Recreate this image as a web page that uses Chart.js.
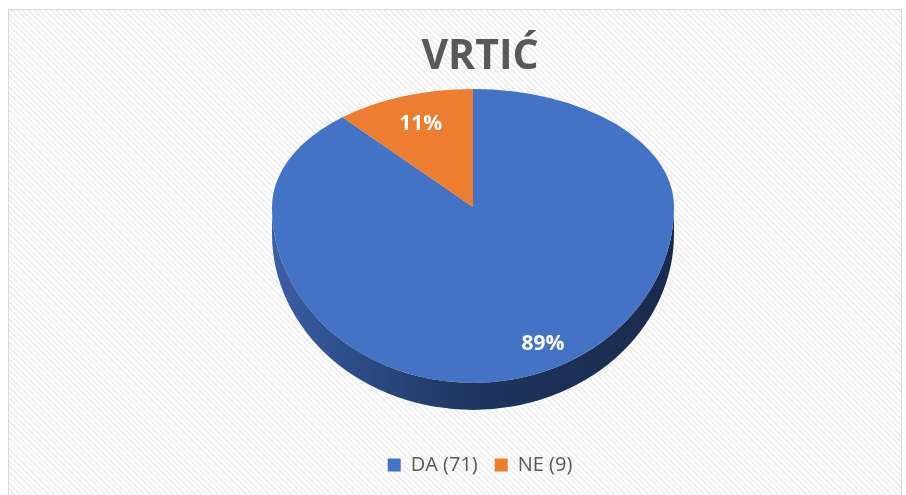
<!DOCTYPE html>
<html>
<head>
<meta charset="utf-8">
<script src="https://cdn.jsdelivr.net/npm/chart.js@4.4.0/dist/chart.umd.min.js"></script>
<style>
    html, body { margin: 0; padding: 0; background: #fff; }
    body { width: 906px; height: 495px; overflow: hidden; position: relative; }
    .frame {
        position: absolute; left: 8px; top: 9px; width: 892px; height: 500px;
        border: 1.5px solid #d9d9d9;
        background: repeating-linear-gradient(45deg, #ffffff 0 2px, #f0f0f0 2px 4px);
    }
    .chart-container { position: absolute; left: 0; top: 0; width: 906px; height: 495px; }
</style>
</head>
<body>
<div class="frame"></div>
<div class="chart-container"><canvas id="vrticChart"></canvas></div>
<script>
const chartTitle = 'VRTIĆ';
const categories = ['DA', 'NE'];
const counts = [71, 9];
const sliceColors = ['#4472c4', '#ed7d31'];
const sideColors = [
    ['#3a5fa3', '#2d4d88', '#1f355f', '#1a2a4b'],
    ['#b5601f', '#a0521c', '#8a4414', '#6e360f']
];

// tilted pie geometry (screen pixels) and label spots
const PIE = { cx: 473, cy: 207, rx: 201, ryTop: 118, ryBottom: 176, depth: 27 };
const labelSpots = [{ angle: 156, f: 0.855 }, { angle: null, f: 0.75 }];

const total = counts.reduce((a, b) => a + b, 0);

Chart.defaults.font.family = "'Open Sans', sans-serif";

const pie3d = {
    id: 'pie3d',
    beforeDatasetDraw(chart, args) {
        const ctx = chart.ctx;
        const arcs = args.meta.data;
        const ox = arcs[0].x, oy = arcs[0].y, r = arcs[0].outerRadius;
        const sx = PIE.rx / r;

        // side wall, only the front half is visible
        arcs.forEach((a, i) => {
            [[0, Math.PI], [2 * Math.PI, 3 * Math.PI]].forEach(([f0, f1]) => {
                const s = Math.max(a.startAngle, f0), e = Math.min(a.endAngle, f1);
                if (e <= s) return;
                const g = ctx.createLinearGradient(PIE.cx - PIE.rx, 0, PIE.cx + PIE.rx, 0);
                const c = sideColors[i];
                g.addColorStop(0, c[0]);
                g.addColorStop(0.2, c[1]);
                g.addColorStop(0.5, c[2]);
                g.addColorStop(1, c[3]);
                ctx.save();
                ctx.beginPath();
                ctx.ellipse(PIE.cx, PIE.cy, PIE.rx, PIE.ryBottom, 0, s, e);
                ctx.ellipse(PIE.cx, PIE.cy + PIE.depth, PIE.rx, PIE.ryBottom, 0, e, s, true);
                ctx.closePath();
                ctx.fillStyle = g;
                ctx.fill();
                ctx.restore();
            });
        });

        // top face: back half flatter than front half
        [[0, PIE.cy, PIE.ryTop], [PIE.cy, chart.height, PIE.ryBottom]].forEach(([y0, y1, ry]) => {
            ctx.save();
            ctx.beginPath();
            ctx.rect(0, y0, chart.width, y1 - y0);
            ctx.clip();
            ctx.translate(PIE.cx, PIE.cy);
            ctx.scale(sx, ry / r);
            ctx.translate(-ox, -oy);
            arcs.forEach(a => a.draw(ctx));
            ctx.restore();
        });
        return false;
    },
    afterDatasetsDraw(chart) {
        const ctx = chart.ctx;
        const meta = chart.getDatasetMeta(0);
        ctx.save();
        ctx.fillStyle = '#ffffff';
        ctx.font = "bold 21px 'Open Sans'";
        ctx.textAlign = 'center';
        ctx.textBaseline = 'middle';
        meta.data.forEach((a, i) => {
            const spot = labelSpots[i];
            const ang = spot.angle !== null ? (spot.angle - 90) * Math.PI / 180 : (a.startAngle + a.endAngle) / 2;
            const ux = Math.cos(ang) * spot.f, uy = Math.sin(ang) * spot.f;
            const x = PIE.cx + ux * PIE.rx;
            const y = PIE.cy + uy * (uy < 0 ? PIE.ryTop : PIE.ryBottom);
            ctx.fillText(Math.round(counts[i] / total * 100) + '%', x, y);
        });
        ctx.restore();
    }
};

const ctx = document.getElementById('vrticChart').getContext('2d');
const vrticChart = new Chart(ctx, {
    type: 'pie',
    data: {
        labels: categories,
        datasets: [{
            data: counts,
            backgroundColor: sliceColors,
            borderWidth: 0
        }]
    },
    options: {
        responsive: true,
        maintainAspectRatio: false,
        animation: false,
        radius: 150,
        layout: { padding: { left: 54, right: 0, top: 0, bottom: 10 } },
        events: [],
        plugins: {
            tooltip: { enabled: false },
            title: {
                display: true,
                text: chartTitle,
                color: '#595959',
                font: { size: 41, weight: 'bold' },
                padding: { top: 33, bottom: 0 }
            },
            legend: {
                position: 'bottom',
                labels: {
                    boxWidth: 13,
                    boxHeight: 13,
                    padding: 17,
                    color: '#595959',
                    font: { size: 20 },
                    generateLabels: () => categories.map((c, i) => ({
                        text: c + ' (' + counts[i] + ')',
                        fillStyle: sliceColors[i],
                        strokeStyle: sliceColors[i],
                        lineWidth: 0,
                        fontColor: '#595959',
                        hidden: false,
                        index: i
                    }))
                }
            }
        }
    },
    plugins: [pie3d]
});
</script>
</body>
</html>
